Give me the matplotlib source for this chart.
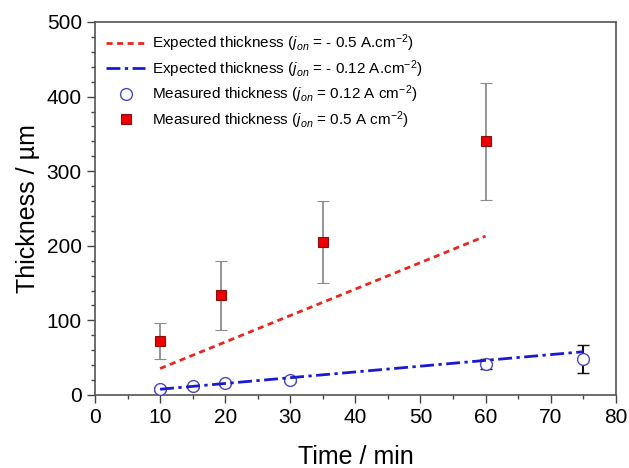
import matplotlib
matplotlib.use("Agg")
import matplotlib.pyplot as plt
from matplotlib.lines import Line2D
from matplotlib.ticker import MultipleLocator

plt.rcParams["font.family"] = ["Liberation Sans", "DejaVu Sans"]
plt.rcParams["mathtext.fontset"] = "custom"
plt.rcParams["mathtext.it"] = "Liberation Sans:italic"
plt.rcParams["mathtext.rm"] = "Liberation Sans"

# expected thickness lines (start / end)
exp_high_t = [10, 60]
exp_high_y = [35.5, 213]
exp_low_t = [10, 75]
exp_low_y = [7.7, 58]

# measured at 0.12 A cm-2
low_t = [10, 15, 20, 30, 60, 75]
low_y = [8, 12, 16, 20, 41, 48]
low_err_lo = [3, 2, 2, 3, 6, 18]
low_err_hi = [3, 2, 2, 3, 7, 19]

# measured at 0.5 A cm-2
high_t = [10, 19.4, 35, 60]
high_y = [72, 134, 205, 340]
high_err_lo = [24, 47, 55, 78]
high_err_hi = [24, 46, 55, 78]

fig = plt.figure(figsize=(6.29, 4.68), dpi=100)
ax = fig.add_axes([0.151, 0.156, 0.828, 0.797])

red_style = dict(color="#e8281e", ls=(0, (2.2, 1.6)), lw=2.0)
blue_style = dict(color="#1a1ad0", ls=(0, (5, 1.6, 1.2, 1.6)), lw=2.0)
low_mk = dict(marker="o", ms=8.5, mfc="white", mec="#4848c0", mew=1.0)
high_mk = dict(marker="s", ms=7, mfc="#ee0000", mec="#8a1010", mew=0.8)

ax.plot(exp_high_t, exp_high_y, zorder=4, **red_style)
ax.plot(exp_low_t, exp_low_y, zorder=4, **blue_style)

ax.errorbar(low_t, low_y, yerr=[low_err_lo, low_err_hi], ls="none", ecolor="#111111",
            elinewidth=1.5, capsize=4, capthick=1.5, zorder=3, **low_mk)
ax.errorbar(high_t, high_y, yerr=[high_err_lo, high_err_hi], ls="none", ecolor="#8c8c8c",
            elinewidth=1.3, capsize=4, capthick=1.3, zorder=3, **high_mk)

ax.set_xlim(0, 80)
ax.set_ylim(0, 500)
ax.xaxis.set_major_locator(MultipleLocator(10))
ax.xaxis.set_minor_locator(MultipleLocator(5))
ax.yaxis.set_major_locator(MultipleLocator(100))
ax.yaxis.set_minor_locator(MultipleLocator(20))
ax.tick_params(which="both", direction="out", top=False, right=False, color="#444444",
               labelsize=15, width=1.0)
ax.tick_params(which="major", length=6)
ax.tick_params(which="minor", length=3)
for s in ax.spines.values():
    s.set_color("#555555")
    s.set_linewidth(1.2)

ax.set_xlabel("Time / min", fontsize=18, labelpad=13)
ax.set_ylabel("Thickness / µm", fontsize=18, labelpad=5)

handles = [
    Line2D([], [], **red_style),
    Line2D([], [], **blue_style),
    Line2D([], [], ls="none", **low_mk),
    Line2D([], [], ls="none", **high_mk),
]
labels = [
    r"Expected thickness ($j_{on}$ = - 0.5 A.cm$^{-2}$)",
    r"Expected thickness ($j_{on}$ = - 0.12 A.cm$^{-2}$)",
    r"Measured thickness ($j_{on}$ = 0.12 A cm$^{-2}$)",
    r"Measured thickness ($j_{on}$ = 0.5 A cm$^{-2}$)",
]
ax.legend(handles, labels, loc="upper left", frameon=False, fontsize=11,
          handlelength=2.6, handletextpad=0.4, labelspacing=0.25,
          bbox_to_anchor=(0.0, 1.0), borderaxespad=0.3)

fig.savefig("out.png", dpi=100)
